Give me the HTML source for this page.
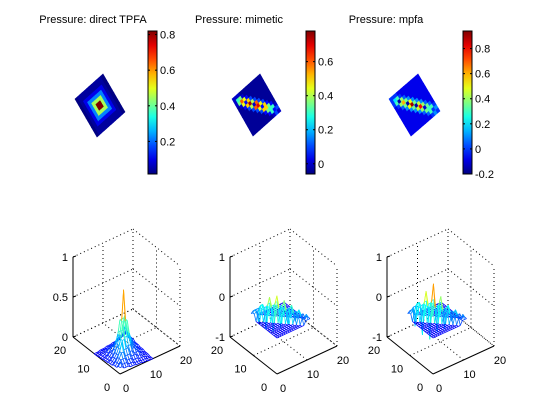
<!DOCTYPE html>
<html><head><meta charset="utf-8"><style>
body{margin:0;background:#fff}
svg{display:block;font-family:"Liberation Sans",sans-serif;font-size:11px}
</style></head><body>
<svg id="fig" width="560" height="420" viewBox="0 0 560 420" xmlns="http://www.w3.org/2000/svg">
<rect width="560" height="420" fill="#fff"/>
<text x="93" y="23" text-anchor="middle">Pressure: direct TPFA</text>
<text x="239" y="23" text-anchor="middle">Pressure: mimetic</text>
<text x="386" y="23" text-anchor="middle">Pressure: mpfa</text>
<g id="layer"></g>
</svg>
<script>
// ---- data ----
const cbTicks1 = [0.2, 0.4, 0.6, 0.8];
const cbTicks2 = [0, 0.2, 0.4, 0.6];
const cbTicks3 = [-0.2, 0, 0.2, 0.4, 0.6, 0.8];
const cbRange1 = [0.017, 0.82];
const cbRange2 = [-0.06, 0.78];
const cbRange3 = [-0.2, 0.94];
const ring1 = [0.82, 0.45, 0.22, 0.1, 0.04, 0.02];
const bandDiag2 = [0.0, 0.3, 0.6, 0.05, 0.75, 0.0, 0.7, 0.05, 0.5, 0.3, 0.05, 0.0];
const bandOff2 = [0.0, 0.35, 0.45, 0.5, 0.4, 0.6, 0.45, 0.5, 0.35, 0.3, 0.1, 0.0];
const bandOff2b = [0.0, 0.0, 0.05, 0.1, 0.1, 0.1, 0.1, 0.05, 0.05, 0.0, 0.0, 0.0];
const bandDiag3 = [0.0, 0.2, -0.15, 0.6, -0.15, 0.9, -0.15, 0.8, -0.1, 0.3, 0.0, 0.0];
const bandOff3 = [0.0, 0.3, 0.4, 0.35, 0.5, 0.35, 0.45, 0.4, 0.35, 0.3, 0.1, 0.0];
const bandOff3b = [0.0, 0.0, 0.05, 0.1, 0.1, 0.1, 0.1, 0.05, 0.05, 0.0, 0.0, 0.0];
const base2 = -0.04, base3 = -0.08;
const zTicks1 = [0, 0.5, 1], zTickLbl1 = ["0", "0.5", "1"];
const zTicks2 = [-1, 0, 1], zTickLbl2 = ["-1", "0", "1"];
const xyTicks = [0, 10, 20];
const surfProfile1 = [0.83, 0.45, 0.28, 0.18, 0.12, 0.08, 0.05, 0.03, 0.02, 0.01, 0.0];
const surfDiag2 = [0, 0.1, -0.2, 0.25, -0.35, 0.45, -0.4, 0.5, -0.3, 0.4, -0.2, 0.3, -0.1, 0.2, 0, 0.1, 0, 0];
const surfOff2 = [0, 0.05, 0.1, 0.2, 0.15, 0.25, 0.2, 0.3, 0.2, 0.25, 0.15, 0.2, 0.1, 0.1, 0.05, 0, 0, 0];
const surfDiag3 = [0, 0.1, -0.3, 0.3, -0.5, 0.6, -0.6, 0.8, -0.4, 0.5, -0.3, 0.3, -0.1, 0.2, 0, 0.1, 0, 0];
const surfOff3 = [0, 0.05, 0.15, 0.25, 0.2, 0.3, 0.25, 0.35, 0.2, 0.3, 0.15, 0.2, 0.1, 0.1, 0.05, 0, 0, 0];
const surfBase2 = -0.1, surfBase3 = -0.1;

const NS = "http://www.w3.org/2000/svg";
const layer = document.getElementById('layer');
function mk(tag, attrs, parent) {
  const e = document.createElementNS(NS, tag);
  for (const k in attrs) e.setAttribute(k, attrs[k]);
  (parent || layer).appendChild(e);
  return e;
}
function jet(t) {
  t = Math.max(0, Math.min(1, t));
  const r = Math.max(0, Math.min(1, 1.5 - Math.abs(4 * t - 3)));
  const g = Math.max(0, Math.min(1, 1.5 - Math.abs(4 * t - 2)));
  const b = Math.max(0, Math.min(1, 1.5 - Math.abs(4 * t - 1)));
  return `rgb(${Math.round(r * 255)},${Math.round(g * 255)},${Math.round(b * 255)})`;
}
function colorbar(x0, range, ticks, idx) {
  const y0 = 31, y1 = 174, w = 9;
  const gid = 'g' + idx;
  const defs = mk('defs', {});
  const lg = mk('linearGradient', { id: gid, x1: 0, y1: 1, x2: 0, y2: 0 }, defs);
  for (let i = 0; i <= 10; i++) mk('stop', { offset: i / 10, 'stop-color': jet(i / 10) }, lg);
  const r = mk('rect', { x: x0, y: y0, width: w, height: y1 - y0, fill: `url(#${gid})`, stroke: '#000', 'stroke-width': 1 });
  
  
  const ys = v => y1 - (v - range[0]) / (range[1] - range[0]) * (y1 - y0);
  ticks.forEach(v => {
    const y = ys(v);
    mk('line', { x1: x0, x2: x0 + 2, y1: y, y2: y, stroke: '#000' });
    mk('line', { x1: x0 + w - 2, x2: x0 + w, y1: y, y2: y, stroke: '#000' });
    const t = mk('text', { x: x0 + w + 3, y: y + 4 });
    t.textContent = String(v);
    
    
  });
}
colorbar(148, cbRange1, cbTicks1, 1);
colorbar(306, cbRange2, cbTicks2, 2);
colorbar(463, cbRange3, cbTicks3, 3);

function image(L, T, B, range, valFn, idx) {
  const N = 12;
  const U = [T[0] - L[0], T[1] - L[1]], V = [B[0] - L[0], B[1] - L[1]];
  const P = (i, j) => [L[0] + i / N * U[0] + j / N * V[0], L[1] + i / N * U[1] + j / N * V[1]];
  const g = mk('g', {});
  
  
  for (let i = 0; i < N; i++) for (let j = 0; j < N; j++) {
    const v = valFn(i, j);
    const c = jet((v - range[0]) / (range[1] - range[0]));
    const pts = [P(i, j), P(i + 1, j), P(i + 1, j + 1), P(i, j + 1)].map(p => p.join(',')).join(' ');
    mk('polygon', { points: pts, fill: c, stroke: c, 'stroke-width': 0.6 }, g);
  }
}
image([75, 99], [103, 74], [97, 137], cbRange1, (i, j) => {
  const di = Math.abs(i - 5.5), dj = Math.abs(j - 5.5);
  const r = Math.min(5, Math.floor(Math.max(di * 1.1, dj * 0.9)));
  return ring1[r];
}, 1);
function image2(L, T, B, range, diag, off, offb, base, idx) {
  image(L, T, B, range, (i, j) => {
    const d = Math.abs(i - j), k = Math.min(i, j);
    if (d === 0) return diag[i];
    if (d === 1) return off[k];
    if (d === 2) return offb[k];
    return base;
  }, idx);
}
image2([232, 99], [260, 74], [253, 136], cbRange2, bandDiag2, bandOff2, bandOff2b, base2, 2);
image2([389, 99], [418, 74], [411, 136], cbRange3, bandDiag3, bandOff3, bandOff3b, base3, 3);

function surface(F, R, L, zmin, zmax, zpx, zTicks, zLbl, zFn, cbase, cspan, idx) {
  const ex = [(R[0] - F[0]) / 20, (R[1] - F[1]) / 20], ey = [(L[0] - F[0]) / 20, (L[1] - F[1]) / 20];
  const proj = (x, y, z) => [F[0] + x * ex[0] + y * ey[0], F[1] + x * ex[1] + y * ey[1] - (z - zmin) * zpx];
  const g = mk('g', {});
  
  
  const line = (a, b, dotted, col) => mk('line', { x1: a[0], y1: a[1], x2: b[0], y2: b[1], stroke: col || '#000', 'stroke-width': 1, 'stroke-dasharray': dotted ? '1,3' : 'none' }, g);
  zTicks.forEach(z => {
    line(proj(0, 20, z), proj(20, 20, z), true);
    line(proj(20, 20, z), proj(20, 0, z), true);
  });
  [10, 20].forEach(v => {
    line(proj(v, 20, zmin), proj(v, 20, zmax), true);
    line(proj(20, v, zmin), proj(20, v, zmax), true);
  });
  line(proj(20, 0, zmin), proj(20, 0, zmax), true);
  line(proj(10, 0, zmin), proj(10, 20, zmin), true);
  line(proj(0, 10, zmin), proj(20, 10, zmin), true);
  line(proj(20, 0, zmin), proj(20, 20, zmin), true);
  line(proj(0, 20, zmin), proj(20, 20, zmin), true);
  line(proj(0, 20, zmin), proj(0, 20, zmax), false);
  line(proj(0, 20, zmin), proj(0, 0, zmin), false);
  line(proj(0, 0, zmin), proj(20, 0, zmin), false);
  zTicks.forEach((z, k) => {
    const p = proj(0, 20, z);
    line(p, [p[0] + 3, p[1] - 1], false);
    const t = mk('text', { x: p[0] - 5, y: p[1] + 4, 'text-anchor': 'end' }, g);
    t.textContent = zLbl[k];
    
    
  });
  xyTicks.forEach(v => {
    const py = proj(0, v, zmin);
    const t = mk('text', { x: py[0] - 13, y: py[1] + 17, 'text-anchor': 'middle' }, g);
    t.textContent = String(v);
    
    
    const px = proj(v, 0, zmin);
    const t2 = mk('text', { x: px[0] + 6, y: px[1] + 18, 'text-anchor': 'middle' }, g);
    t2.textContent = String(v);
    
    
  });
  const M = 16, S = 11 / M;
  const Z = [];
  for (let i = 0; i <= M; i++) { Z.push([]); for (let j = 0; j <= M; j++) Z[i].push(zFn(i, j, M)); }
  const segs = [];
  for (let i = 0; i <= M; i++) for (let j = 0; j <= M; j++) {
    if (i < M) segs.push([i, j, i + 1, j]);
    if (j < M) segs.push([i, j, i, j + 1]);
  }
  segs.sort((a, b) => (b[0] + b[1] + b[2] + b[3]) - (a[0] + a[1] + a[2] + a[3]));
  segs.forEach(s => {
    const z = Math.max(Z[s[0]][s[1]], Z[s[2]][s[3]]);
    const a = proj(s[0] * S, s[1] * S, Z[s[0]][s[1]]), b = proj(s[2] * S, s[3] * S, Z[s[2]][s[3]]);
    mk('line', { x1: a[0], y1: a[1], x2: b[0], y2: b[1], stroke: jet(0.12 + (z - cbase) / cspan), 'stroke-width': 0.8 }, g);
  });
}
surface([120, 374], [180, 346], [73, 337], 0, 1, 80, zTicks1, zTickLbl1, (i, j, M) => {
  const c = M / 2;
  const r = Math.min(10, Math.round(Math.max(Math.abs(i - c), Math.abs(j - c)) * 0.6 + Math.abs(i - j) * 0.35));
  return surfProfile1[r];
}, 0, 1.4, 1);
function surfBand(diag, off, base) {
  return (i, j, M) => {
    const d = Math.abs(i + j - M);
    const k = Math.min(diag.length - 1, Math.max(0, Math.round((i - j + M) / 2)));
    if (d === 0) return diag[k];
    if (d <= 2) return off[k];
    return base;
  };
}
surface([277, 374], [337, 346], [230, 337], -1, 1, 40, zTicks2, zTickLbl2, surfBand(surfDiag2, surfOff2, surfBase2), -0.1, 1.3, 2);
surface([433, 374], [494, 346], [387, 337], -1, 1, 40, zTicks2, zTickLbl2, surfBand(surfDiag3, surfOff3, surfBase3), -0.1, 1.5, 3);
</script>
</body></html>
